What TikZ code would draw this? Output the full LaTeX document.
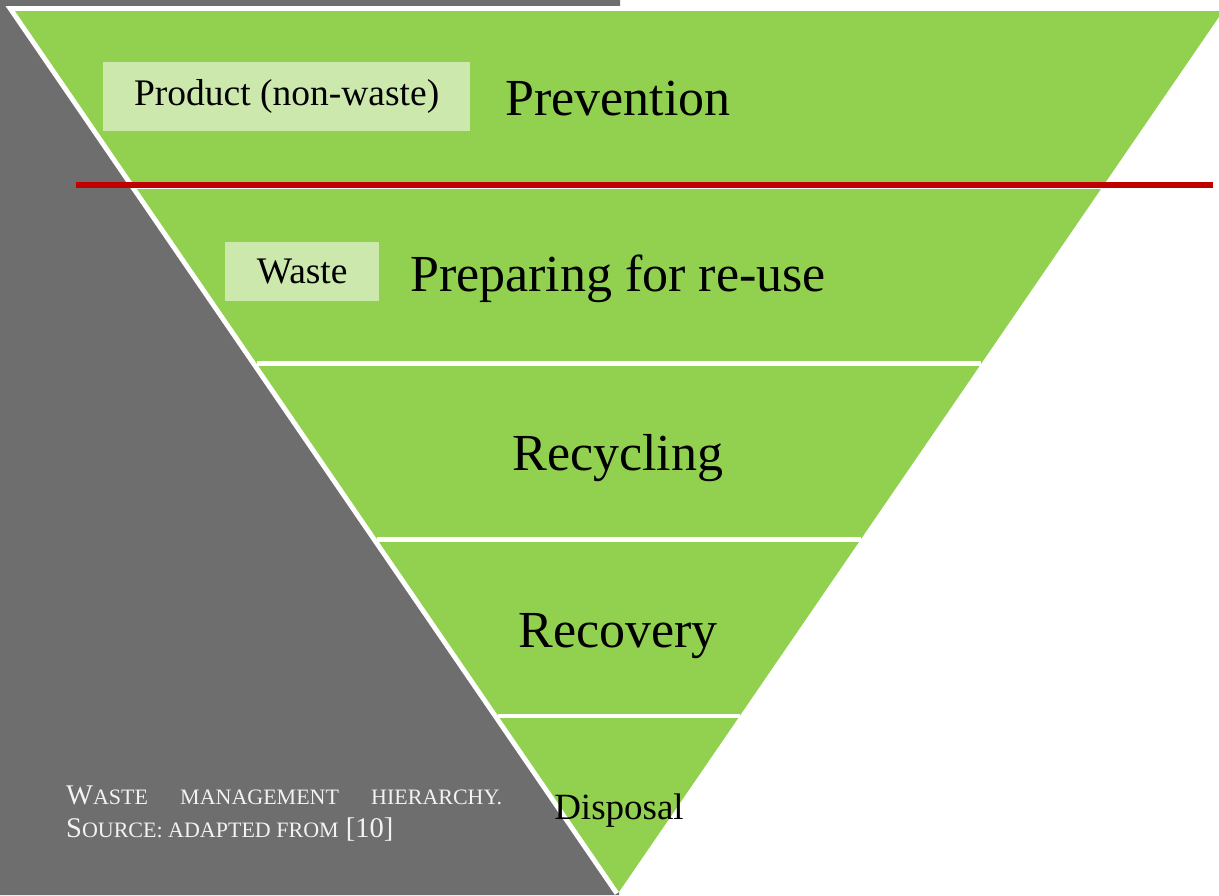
\documentclass[tikz,border=0pt]{standalone}
\usepackage{fontspec}
\setmainfont{Liberation Serif}
\usetikzlibrary{calc}
\definecolor{leafgreen}{HTML}{92D050}
\definecolor{tagfill}{HTML}{CCE8AD}
\definecolor{slate}{HTML}{6E6E6E}
\definecolor{darkred}{HTML}{C00000}
\definecolor{captiontext}{HTML}{F2F2F2}
\newcommand{\bandgap}[1]{\draw[white, line width=4.5] ($(A)!#1!(C)$) -- ($(B)!#1!(C)$);}
\newcommand{\smc}[1]{{\fontsize{22}{34}\selectfont #1}}
\tikzset{
  level/.style={font=\fontsize{52}{52}\selectfont, anchor=base, inner sep=0},
  tag/.style={fill=tagfill, anchor=north west, inner sep=0, font=\fontsize{37.5}{37.5}\selectfont}
}

\begin{document}
\begin{tikzpicture}[x=1pt, y=-1pt]
        \useasboundingbox (0,0) rectangle (1219,895);
        % corners of the triangle
        \coordinate (A) at (15,11);
        \coordinate (B) at (1223,11);
        \coordinate (C) at (619,892);
        % grey side
        \fill[slate] (0,0) -- (620,0) -- (620,11) -- (A) -- (C) -- (619,895) -- (0,895) -- cycle;
        % rim and triangle
        \draw[white, line width=10, line join=miter] (B) -- (A) -- (C);
        \fill[leafgreen] (A) -- (B) -- (C) -- cycle;
        % gaps between levels
        \bandgap{0.2}
        \bandgap{0.4}
        \bandgap{0.6}
        \bandgap{0.8}
        % red line
        \coordinate (rl) at (76,185);
        \coordinate (rr) at (1213,185);
        \draw[darkred, line width=6] (rl) -- (rr);
        % tags
        \node[tag, minimum width=367pt, minimum height=69pt] (product) at (103,62) {Product (non-waste)};
        \node[tag, minimum width=154pt, minimum height=59pt] (waste) at (225,242) {Waste};
        % levels
        \node[level] (prevention) at (618,115) {Prevention};
        \node[level] (reuse) at (618,291) {Preparing for re-use};
        \node[level] (recycling) at (618,470) {Recycling};
        \node[level] (recovery) at (618,647) {Recovery};
        \node[level, font=\fontsize{37}{37}\selectfont] (disposal) at (619,819) {Disposal};
        % caption
        \node[anchor=north west, inner sep=0, text width=436pt, align=justify, text=captiontext,
              font=\fontsize{28.5}{33}\selectfont] (caption) at (66,786)
              {W\smc{ASTE MANAGEMENT HIERARCHY.}\linebreak S\smc{OURCE: ADAPTED FROM} [10]};
\end{tikzpicture}
\end{document}
